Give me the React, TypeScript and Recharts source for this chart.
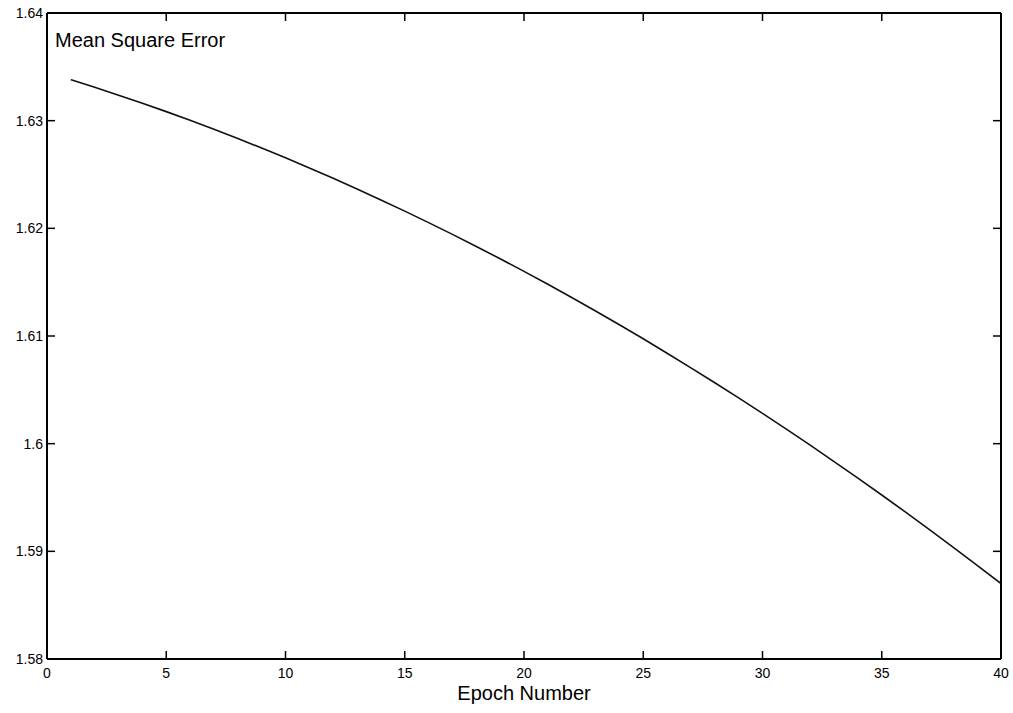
import React from 'react';
import { LineChart, Line, XAxis, YAxis } from 'recharts';

// epoch index and mean square error
const epochs = [
  1, 2, 3, 4, 5, 6, 7, 8, 9, 10,
  11, 12, 13, 14, 15, 16, 17, 18, 19, 20,
  21, 22, 23, 24, 25, 26, 27, 28, 29, 30,
  31, 32, 33, 34, 35, 36, 37, 38, 39, 40
];
const mse = [
  1.6338, 1.6331, 1.63237, 1.63162, 1.63084, 1.63004, 1.6292, 1.62834, 1.62746, 1.62655,
  1.62561, 1.62465, 1.62366, 1.62264, 1.6216, 1.62053, 1.61944, 1.61832, 1.61717, 1.616,
  1.6148, 1.61357, 1.61232, 1.61104, 1.60974, 1.6084, 1.60704, 1.60566, 1.60425, 1.60281,
  1.60135, 1.59986, 1.59834, 1.5968, 1.59523, 1.59364, 1.59202, 1.59037, 1.5887, 1.587
];

const xTicks = [0, 5, 10, 15, 20, 25, 30, 35, 40];
const yTicks = [1.58, 1.59, 1.6, 1.61, 1.62, 1.63, 1.64];
const yTickLabels = ['1.58', '1.59', '1.6', '1.61', '1.62', '1.63', '1.64'];

const data = epochs.map((e, i) => ({ epoch: e, mse: mse[i] }));

const FONT = '"Liberation Sans", Arial, sans-serif';

const yLabel = (v: number) => {
  const i = yTicks.findIndex(t => Math.abs(t - v) < 1e-9);
  return i >= 0 ? yTickLabels[i] : String(v);
};

// MATLAB style: ticks point into the plot box
const BottomTick = (props: any) => {
  const { x, y, payload } = props;
  return (
    <g>
      <line x1={x} x2={x} y1={y} y2={y - 8} stroke="#000" strokeWidth={1.5} />
      <text x={x} y={y + 19} textAnchor="middle" fontSize={14} fontFamily={FONT} fill="#000">
        {payload.value}
      </text>
    </g>
  );
};

const LeftTick = (props: any) => {
  const { x, y, payload } = props;
  return (
    <g>
      <line x1={x} x2={x + 8} y1={y} y2={y} stroke="#000" strokeWidth={1.5} />
      <text x={x - 4} y={y + 5} textAnchor="end" fontSize={14} fontFamily={FONT} fill="#000">
        {yLabel(payload.value)}
      </text>
    </g>
  );
};

const TopTick = (props: any) => {
  const { x, y } = props;
  return <line x1={x} x2={x} y1={y} y2={y + 8} stroke="#000" strokeWidth={1.5} />;
};

const RightTick = (props: any) => {
  const { x, y } = props;
  return <line x1={x} x2={x - 8} y1={y} y2={y} stroke="#000" strokeWidth={1.5} />;
};

const App: React.FC = () => {
  return (
    <div style={{ position: 'absolute', left: 0, top: 0, width: 1013, height: 713, background: '#fff' }}>
      <LineChart
        width={1013}
        height={713}
        data={data}
        margin={{ top: 12, right: 11, left: 0, bottom: 0 }}
      >
        <XAxis
          xAxisId="bottom"
          dataKey="epoch"
          type="number"
          domain={[0, 40]}
          ticks={xTicks}
          interval={0}
          height={54}
          tickSize={0}
          tickMargin={0}
          tickLine={false}
          axisLine={{ stroke: '#000', strokeWidth: 2 }}
          tick={<BottomTick />}
          allowDataOverflow
        />
        <XAxis
          xAxisId="top"
          orientation="top"
          dataKey="epoch"
          type="number"
          domain={[0, 40]}
          ticks={xTicks}
          interval={0}
          height={1}
          tickSize={0}
          tickMargin={0}
          tickLine={false}
          axisLine={{ stroke: '#000', strokeWidth: 2 }}
          tick={<TopTick />}
          allowDataOverflow
        />
        <YAxis
          yAxisId="left"
          type="number"
          domain={[1.58, 1.64]}
          ticks={yTicks}
          interval={0}
          width={47}
          tickSize={0}
          tickMargin={0}
          tickLine={false}
          axisLine={{ stroke: '#000', strokeWidth: 2 }}
          tick={<LeftTick />}
          allowDataOverflow
        />
        <YAxis
          yAxisId="right"
          orientation="right"
          type="number"
          domain={[1.58, 1.64]}
          ticks={yTicks}
          interval={0}
          width={1}
          tickSize={0}
          tickMargin={0}
          tickLine={false}
          axisLine={{ stroke: '#000', strokeWidth: 2 }}
          tick={<RightTick />}
          allowDataOverflow
        />
        {/* invisible copy so the top/right frame axes get a scale */}
        <Line
          xAxisId="top"
          yAxisId="right"
          type="monotone"
          dataKey="mse"
          stroke="#000"
          strokeOpacity={0}
          dot={false}
          activeDot={false}
          legendType="none"
          isAnimationActive={false}
        />
        <Line
          xAxisId="bottom"
          yAxisId="left"
          type="monotone"
          dataKey="mse"
          stroke="#111"
          strokeWidth={1.6}
          dot={false}
          activeDot={false}
          isAnimationActive={false}
        />
      </LineChart>
      <div
        style={{
          position: 'absolute',
          left: 55,
          top: 29,
          fontFamily: FONT,
          fontSize: 20,
          color: '#000',
          whiteSpace: 'nowrap'
        }}
      >
        Mean Square Error
      </div>
      <div
        style={{
          position: 'absolute',
          left: 47,
          width: 954,
          top: 682,
          textAlign: 'center',
          fontFamily: FONT,
          fontSize: 20,
          color: '#000'
        }}
      >
        Epoch Number
      </div>
    </div>
  );
};

export default App;
